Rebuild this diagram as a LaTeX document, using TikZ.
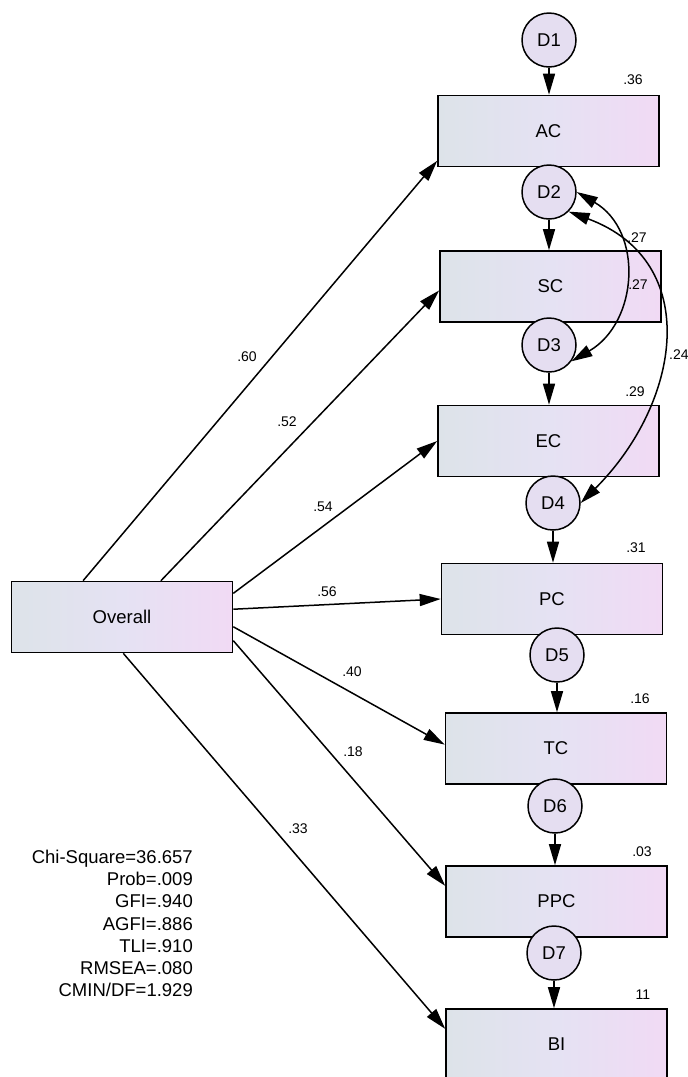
\documentclass[tikz,border=0pt]{standalone}
\usepackage{fontspec}
\setmainfont{Liberation Sans}
\usetikzlibrary{arrows.meta}
\definecolor{boxleft}{RGB}{221,227,233}
\definecolor{boxmid}{RGB}{229,226,243}
\definecolor{boxright}{RGB}{241,218,244}
\definecolor{discfill}{RGB}{229,222,241}
\begin{document}
\begin{tikzpicture}[x=1pt, y=-1pt, >={Triangle[length=21pt,width=12pt]},
        every node/.style={font=\fontsize{18.5}{22.2}\selectfont},
        var/.style={draw, line width=1.6pt, minimum width=221pt, minimum height=71pt, inner sep=0pt,
            left color=boxleft, right color=boxright, middle color=boxmid},
        dist/.style={draw, circle, line width=1.5pt, minimum size=54pt, inner sep=0pt, fill=discfill},
        coef/.style={font=\fontsize{14}{16}\selectfont, inner sep=0pt},
        effect/.style={->, line width=1.5pt}]
        \useasboundingbox (0,0) rectangle (688,1077);

        % observed variables
        \node[var] (Overall) at (122,617) {Overall};
        \node[var] (AC)  at (548.5,131)  {AC};
        \node[var] (SC)  at (550.5,286.5) {SC};
        \node[var] (EC)  at (548.5,441)  {EC};
        \node[var] (PC)  at (552,599)    {PC};
        \node[var] (TC)  at (556,748.5)  {TC};
        \node[var] (PPC) at (556.5,901.5) {PPC};
        \node[var] (BI)  at (556.5,1044.5) {BI};

        % disturbances
        \node[dist] (D1) at (549,40)  {D1};
        \node[dist] (D2) at (549,192) {D2};
        \node[dist] (D3) at (549,345) {D3};
        \node[dist] (D4) at (553,503) {D4};
        \node[dist] (D5) at (557,655) {D5};
        \node[dist] (D6) at (555,806) {D6};
        \node[dist] (D7) at (554,953) {D7};

        \draw[effect] (D1) -- (D1 |- AC.north);
        \draw[effect] (D2) -- (D2 |- SC.north);
        \draw[effect] (D3) -- (D3 |- EC.north);
        \draw[effect] (D4) -- (D4 |- PC.north);
        \draw[effect] (D5) -- (D5 |- TC.north);
        \draw[effect] (D6) -- (D6 |- PPC.north);
        \draw[effect] (D7) -- (D7 |- BI.north);

        % paths from Overall
        \draw[effect] (Overall.137) -- (AC.195);
        \draw[effect] (Overall.43)  -- (SC.182);
        \draw[effect] (Overall.12)  -- (EC.west);
        \draw[effect] (Overall.4)   -- (PC.west);
        \draw[effect] (Overall.-5)  -- (TC.178);
        \draw[effect] (Overall.-12) -- (PPC.172);
        \draw[effect] (Overall.-88) -- (BI.172);

        % covariances
        \draw[<->, line width=1.5pt] (D2.east) .. controls +(67,39) and +(67,-39) .. (D3.-36);
        \draw[<->, line width=1.5pt] (D2.-45) .. controls +(135,50) and +(100,-100) .. (D4.east);

        \node[coef] (c60) at (247,357) {.60};
        \node[coef] (c52) at (287,422) {.52};
        \node[coef] (c54) at (323,507) {.54};
        \node[coef] (c56) at (327,592) {.56};
        \node[coef] (c40) at (352,672) {.40};
        \node[coef] (c18) at (353,752) {.18};
        \node[coef] (c33) at (298,829) {.33};

        \node[coef] (r36) at (633,80)  {.36};
        \node[coef] (r27) at (637,238) {.27};
        \node[coef] (r29) at (635,392) {.29};
        \node[coef] (r31) at (636,548) {.31};
        \node[coef] (r16) at (640,699) {.16};
        \node[coef] (r03) at (642,852) {.03};
        \node[coef] (r11) at (643,995) {11};

        \node[coef] (k27) at (638,285) {.27};
        \node[coef, anchor=west] (k24) at (669,355) {.24};

        \node[align=right, anchor=east, inner sep=0pt] (fit) at (193,923.5)
            {Chi-Square=36.657\\Prob=.009\\GFI=.940\\AGFI=.886\\TLI=.910\\RMSEA=.080\\CMIN/DF=1.929};
    \end{tikzpicture}
\end{document}
